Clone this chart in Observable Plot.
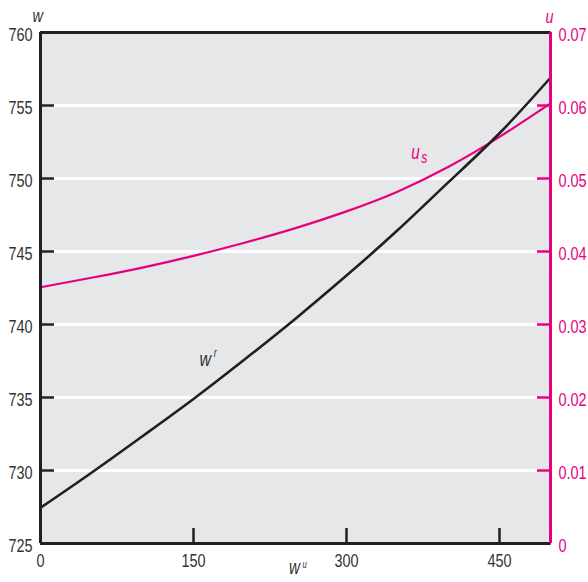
<!DOCTYPE html>
<html>
<head>
<meta charset="utf-8">
<script src="https://cdn.jsdelivr.net/npm/d3@7"></script>
<script src="https://cdn.jsdelivr.net/npm/@observablehq/plot@0.6"></script>
<style>
  html, body { margin: 0; padding: 0; background: #fff; }
  #chart svg { display: block; }
</style>
</head>
<body>
<div id="chart"></div>
<script>
// x values (w^u)
const xValues = [0, 50, 100, 150, 200, 250, 300, 350, 400, 450, 500];
// w^r series (left axis, w)
const wrValues = [727.45, 729.85, 732.35, 734.9, 737.6, 740.4, 743.35, 746.45, 749.75, 753.1, 756.9];
// u_s series (right axis, u)
const usValues = [0.0351, 0.0364, 0.0378, 0.0394, 0.0412, 0.0432, 0.0455, 0.0482, 0.0516, 0.0557, 0.0603];

const xTicks = [0, 150, 300, 450];
const wTicks = [725, 730, 735, 740, 745, 750, 755, 760];
const wGrid = [730, 735, 740, 745, 750, 755];
const uTicks = [0, 0.01, 0.02, 0.03, 0.04, 0.05, 0.06, 0.07];

const wDomain = [725, 760];
const uDomain = [0, 0.07];
// map u onto the w scale
const uToW = u => wDomain[0] + (u - uDomain[0]) / (uDomain[1] - uDomain[0]) * (wDomain[1] - wDomain[0]);
const wToU = w => (w - wDomain[0]) / (wDomain[1] - wDomain[0]) * (uDomain[1] - uDomain[0]) + uDomain[0];
const uFormat = d => { const u = Math.round(wToU(d) * 100) / 100; return u === 0 ? "0" : String(u); };

const wrData = xValues.map((x, i) => ({x, w: wrValues[i]}));
const usData = xValues.map((x, i) => ({x, w: uToW(usValues[i])}));

const PINK = "#e6007e";
const DARK = "#231f20";
const FONT = "'Liberation Sans', Arial, sans-serif";

const chart = Plot.plot({
  width: 588,
  height: 582,
  marginLeft: 40,
  marginRight: 38,
  marginTop: 32,
  marginBottom: 39,
  style: {fontFamily: FONT, fontSize: "19px", background: "#fff", overflow: "visible"},
  x: {domain: [0, 500]},
  y: {domain: wDomain},
  marks: [
    Plot.frame({fill: "#e6e7e9", stroke: null}),
    Plot.ruleY(wGrid, {stroke: "#fff", strokeWidth: 3}),
    Plot.line(usData, {x: "x", y: "w", stroke: PINK, strokeWidth: 2.2, curve: "natural"}),
    Plot.line(wrData, {x: "x", y: "w", stroke: DARK, strokeWidth: 2.6, curve: "natural"}),
    // left axis: inward ticks, then labels
    Plot.axisY({ticks: wTicks, anchor: "left", tickSize: -14, strokeWidth: 2.5, stroke: DARK,
      tickFormat: () => "", label: null}),
    Plot.axisY({ticks: wTicks, anchor: "left", tickSize: 0, tickPadding: 8,
      tickFormat: d => String(d), fill: "#333", dy: 2, label: null}),
    // right axis (u): inward ticks, then labels
    Plot.axisY({ticks: uTicks.map(uToW), anchor: "right", tickSize: -14, strokeWidth: 2.5, stroke: PINK,
      tickFormat: () => "", label: null}),
    Plot.axisY({ticks: uTicks.map(uToW), anchor: "right", tickSize: 0, tickPadding: 8,
      tickFormat: uFormat, fill: PINK, dy: 2, label: null}),
    // bottom axis
    Plot.axisX({ticks: xTicks, tickSize: -15, tickPadding: 25, strokeWidth: 2.5, stroke: DARK,
      tickFormat: d => String(d), fill: "#333", label: null}),
    // frame lines
    Plot.ruleY([wDomain[1]], {stroke: DARK, strokeWidth: 3}),
    Plot.ruleY([wDomain[0]], {stroke: DARK, strokeWidth: 3}),
    Plot.ruleX([0], {stroke: DARK, strokeWidth: 3}),
    Plot.ruleX([500], {stroke: PINK, strokeWidth: 3}),
    // axis titles
    Plot.text(["w"], {frameAnchor: "top-left", dx: -8, dy: -24, fontStyle: "italic", fontSize: 19, fill: "#333"}),
    Plot.text(["u"], {frameAnchor: "top-right", dx: 3, dy: -23, fontStyle: "italic", fontSize: 19, fill: PINK}),
    Plot.text(["w"], {frameAnchor: "bottom", dx: -1, dy: 30, fontStyle: "italic", fontSize: 20, fill: "#333"}),
    Plot.text(["u"], {frameAnchor: "bottom", dx: 9, dy: 24, fontStyle: "italic", fontSize: 10, fill: "#333"}),
    // series labels
    Plot.text(["w"], {x: 161.5, y: 737.6, fontStyle: "italic", fontSize: 21, fill: "#333"}),
    Plot.text(["r"], {x: 161.5, y: 737.6, dx: 10, dy: -6, fontStyle: "italic", fontSize: 12, fill: "#333"}),
    Plot.text(["u"], {x: 367.5, y: 751.8, fontStyle: "italic", fontSize: 20, fill: PINK}),
    Plot.text(["s"], {x: 367.5, y: 751.8, dx: 9, dy: 6, fontStyle: "italic", fontSize: 16, fill: PINK})
  ]
});
document.getElementById("chart").appendChild(chart);

// condense all texts horizontally (reference uses a condensed face)
chart.querySelectorAll("text").forEach(t => {
  const len = t.getComputedTextLength();
  if (len > 0) {
    t.setAttribute("textLength", (len * 0.76).toFixed(2));
    t.setAttribute("lengthAdjust", "spacingAndGlyphs");
  }
});
</script>
</body>
</html>
